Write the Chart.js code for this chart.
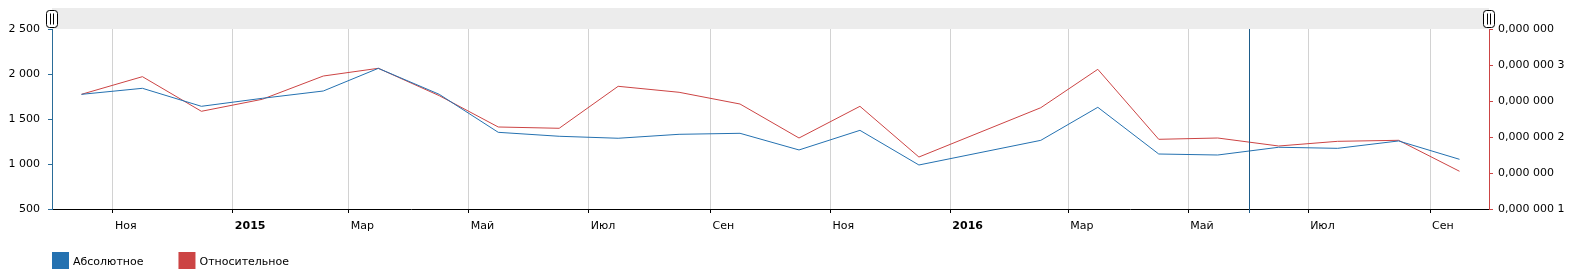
<!DOCTYPE html>
<html>
<head>
<meta charset="utf-8">
<script src="https://cdn.jsdelivr.net/npm/chart.js@4.4.1/dist/chart.umd.min.js"></script>
<style>
  html, body { margin: 0; padding: 0; background: #fff; }
</style>
</head>
<body>
<canvas id="grafico" width="1584" height="275"></canvas>
<script>
// месяцы (январь 2016 в данных отсутствует)
const months = ['2014-10', '2014-11', '2014-12', '2015-01', '2015-02', '2015-03', '2015-04', '2015-05',
  '2015-06', '2015-07', '2015-08', '2015-09', '2015-10', '2015-11', '2015-12', '2016-02', '2016-03',
  '2016-04', '2016-05', '2016-06', '2016-07', '2016-08', '2016-09'];
const absValues = [1774, 1841, 1641, 1730, 1811, 2063, 1774, 1352, 1308, 1286, 1330, 1341, 1156, 1374,
  989, 1263, 1630, 1111, 1100, 1186, 1174, 1256, 1052];
const relValues = [2.593e-7, 2.838e-7, 2.357e-7, 2.524e-7, 2.847e-7, 2.954e-7, 2.574e-7, 2.139e-7,
  2.121e-7, 2.704e-7, 2.621e-7, 2.458e-7, 1.986e-7, 2.426e-7, 1.722e-7, 2.407e-7, 2.94e-7, 1.968e-7,
  1.986e-7, 1.875e-7, 1.94e-7, 1.954e-7, 1.524e-7];

// подписи осей
const xRange = ['2014-10', '2016-10'];
const xTickMonths = ['2014-11', '2015-01', '2015-03', '2015-05', '2015-07', '2015-09', '2015-11',
  '2016-01', '2016-03', '2016-05', '2016-07', '2016-09'];
const xTickLabels = ['Ноя', '2015', 'Мар', 'Май', 'Июл', 'Сен', 'Ноя', '2016', 'Мар', 'Май', 'Июл', 'Сен'];
const leftTicks = [500, 1000, 1500, 2000, 2500];
const leftTickLabels = ['500', '1 000', '1 500', '2 000', '2 500'];
const rightTicks = [1e-7, 1.5e-7, 2e-7, 2.5e-7, 3e-7, 3.5e-7];
const rightTickLabels = ['0,000 000 1', '0,000 000', '0,000 000 2', '0,000 000', '0,000 000 3', '0,000 000'];
const cursorMonth = '2016-06';

const fontFamily = 'Verdana, "DejaVu Sans", sans-serif';
const blue = '#2471b0';
const red = '#cc4444';
const blueAxis = '#2a6c98';

function monthDate(m, day) {
  const [y, mo] = m.split('-').map(Number);
  return Date.UTC(y, mo - 1, day);
}

Chart.defaults.font.family = fontFamily;
Chart.defaults.font.size = 11;
Chart.defaults.color = '#000';

// полоса прокрутки, курсор и легенда
const decor = {
  id: 'decor',
  beforeDraw(chart) {
    const { ctx, chartArea: a } = chart;
    ctx.save();
    ctx.fillStyle = '#ececec';
    ctx.fillRect(a.left, 8, a.right - a.left, a.top - 8);
    ctx.restore();
  },
  afterDraw(chart) {
    const { ctx, chartArea: a, scales } = chart;
    ctx.save();
    // курсор
    const cx = Math.round(scales.x.getPixelForValue(monthDate(cursorMonth, 1))) + 0.5;
    ctx.strokeStyle = '#1d5c8a';
    ctx.lineWidth = 1;
    ctx.beginPath();
    ctx.moveTo(cx, a.top);
    ctx.lineTo(cx, a.bottom + 4);
    ctx.stroke();
    // ручки прокрутки
    [a.left, a.right].forEach(gx => {
      const x = Math.round(gx) - 5.5, y = 10.5, w = 11, h = 17;
      ctx.fillStyle = '#fff';
      ctx.strokeStyle = '#000';
      ctx.beginPath();
      ctx.roundRect(x, y, w, h, 3);
      ctx.fill();
      ctx.stroke();
      ctx.beginPath();
      ctx.moveTo(x + 4, y + 3); ctx.lineTo(x + 4, y + h - 3);
      ctx.moveTo(x + 7, y + 3); ctx.lineTo(x + 7, y + h - 3);
      ctx.stroke();
    });
    // легенда
    let lx = a.left;
    const ly = 252;
    ctx.font = '11px ' + fontFamily;
    ctx.textBaseline = 'middle';
    ctx.textAlign = 'left';
    chart.data.datasets.forEach(ds => {
      ctx.fillStyle = ds.borderColor;
      ctx.fillRect(lx, ly, 17, 17);
      ctx.fillStyle = '#000';
      ctx.fillText(ds.label, lx + 21, ly + 10);
      lx += 21 + ctx.measureText(ds.label).width + 35;
    });
    ctx.restore();
  }
};

new Chart(document.getElementById('grafico'), {
  type: 'line',
  data: {
    datasets: [{
      label: 'Абсолютное',
      data: months.map((m, i) => ({ x: monthDate(m, 16), y: absValues[i] })),
      borderColor: blue,
      borderWidth: 1,
      pointRadius: 0,
      yAxisID: 'y'
    }, {
      label: 'Относительное',
      data: months.map((m, i) => ({ x: monthDate(m, 16), y: relValues[i] })),
      borderColor: red,
      borderWidth: 1,
      pointRadius: 0,
      yAxisID: 'y1'
    }]
  },
  options: {
    responsive: false,
    animation: false,
    devicePixelRatio: 1,
    layout: { padding: { top: 29, bottom: 36, left: 0, right: 0 } },
    scales: {
      x: {
        type: 'linear',
        position: 'bottom',
        min: monthDate(xRange[0], 1),
        max: monthDate(xRange[1], 1),
        afterBuildTicks: s => { s.ticks = xTickMonths.map(m => ({ value: monthDate(m, 1) })); },
        afterFit: s => { s.height = 30; },
        ticks: {
          autoSkip: false,
          maxRotation: 0,
          align: 'start',
          labelOffset: 2,
          padding: 7,
          callback: (v, i) => xTickLabels[i],
          font: c => ({ family: fontFamily, size: 11, weight: /^\d/.test(xTickLabels[c.index] || '') ? 'bold' : 'normal' })
        },
        grid: { color: '#d2d2d2', tickColor: '#000', tickLength: 4 },
        border: { color: '#000' }
      },
      y: {
        type: 'linear',
        position: 'left',
        min: 500,
        max: 2500,
        afterBuildTicks: s => { s.ticks = leftTicks.map(v => ({ value: v })); },
        afterFit: s => { s.width = 52; },
        ticks: { padding: 8, callback: (v, i) => leftTickLabels[i] },
        grid: { drawOnChartArea: false, tickLength: 4, tickColor: blueAxis },
        border: { color: blueAxis }
      },
      y1: {
        type: 'linear',
        position: 'right',
        min: 1e-7,
        max: 3.5e-7,
        afterBuildTicks: s => { s.ticks = rightTicks.map(v => ({ value: v })); },
        afterFit: s => { s.width = 95; },
        ticks: { padding: 5, callback: (v, i) => rightTickLabels[i] },
        grid: { drawOnChartArea: false, tickLength: 4, tickColor: red },
        border: { color: red }
      }
    },
    plugins: {
      legend: { display: false },
      tooltip: { enabled: false }
    }
  },
  plugins: [decor]
});
</script>
</body>
</html>
